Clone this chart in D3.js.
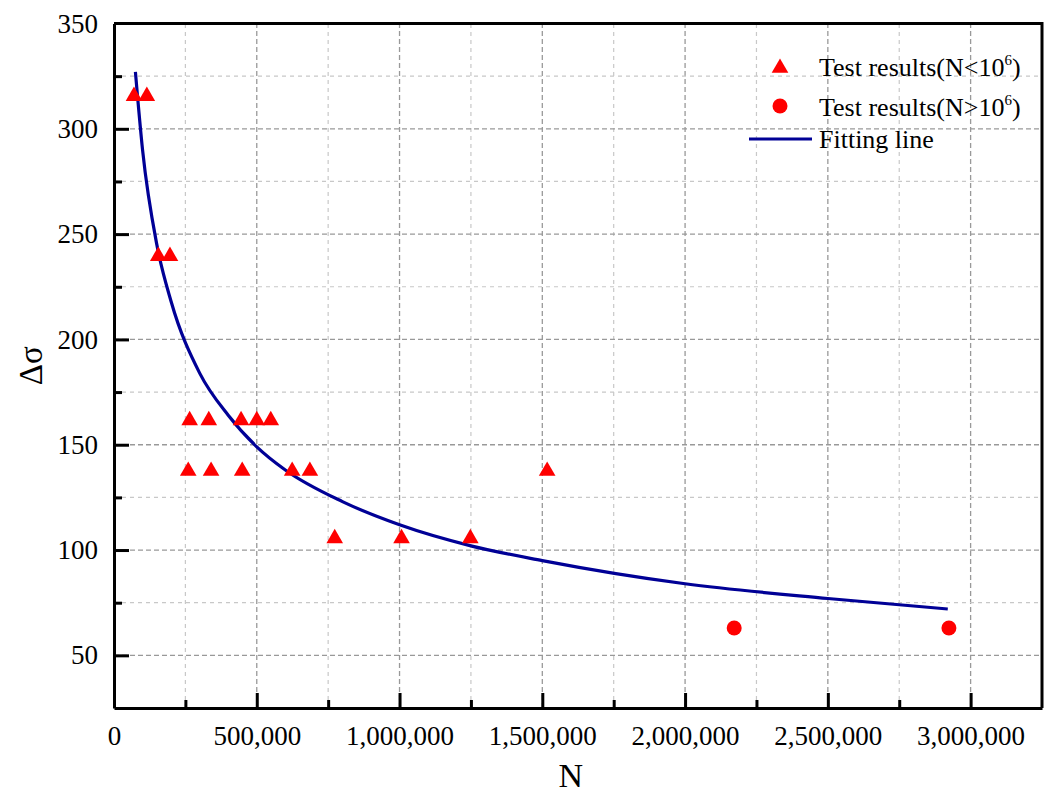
<!DOCTYPE html>
<html>
<head>
<meta charset="utf-8">
<script src="https://cdn.jsdelivr.net/npm/d3@7"></script>
<style>
  body { margin: 0; background: #fff; }
  svg, svg text { font-family: "Liberation Serif", "Times New Roman", serif !important; }
</style>
</head>
<body>
<svg id="chart" width="1053" height="796"></svg>
<script>
// Test results with N < 10^6 (triangles)
const lowN     = [70000, 115000, 155000, 196000, 265000, 332000, 445000, 500000, 549000,
                  260000, 340000, 449000, 624000, 686000, 1517000, 773000, 1007000, 1248000];
const lowStress = [316, 316, 240, 240, 162, 162, 162, 162, 162,
                   138, 138, 138, 138, 138, 138, 106, 106, 106];

// Test results with N > 10^6 (circles)
const highN      = [2172000, 2924000];
const highStress = [63, 63];

// Fitting line, points
const fitN      = [75000, 100000, 150000, 200000, 300000, 400000, 500000, 600000, 800000,
                   1000000, 1250000, 1500000, 2000000, 2500000, 2920000];
const fitStress = [327, 290, 245, 218, 184, 164, 149, 138, 123, 112, 102, 95, 84, 77, 72];

const xMajor = [0, 500000, 1000000, 1500000, 2000000, 2500000, 3000000];
const xMinor = [250000, 750000, 1250000, 1750000, 2250000, 2750000];
const yMajor = [50, 100, 150, 200, 250, 300, 350];
const yMinor = [75, 125, 175, 225, 275, 325];

const svg = d3.select('#chart');
const width = 1053, height = 796;
const margin = { top: 23.5, right: 11, bottom: 88, left: 114 };

const x = d3.scaleLinear().domain([0, 3250000]).range([margin.left, width - margin.right]);
const y = d3.scaleLinear().domain([25, 350]).range([height - margin.bottom, margin.top]);

// grid lines: lighter for the minor ticks, darker for the major ones
const grid = svg.append('g');
grid.selectAll('.vminor').data(xMinor).join('line')
  .attr('x1', d => x(d)).attr('x2', d => x(d))
  .attr('y1', y(25)).attr('y2', y(350))
  .attr('stroke', '#c8c8c8').attr('stroke-width', 1.2).attr('stroke-dasharray', '4,4');
grid.selectAll('.vmajor').data(xMajor.slice(1)).join('line')
  .attr('x1', d => x(d)).attr('x2', d => x(d))
  .attr('y1', y(25)).attr('y2', y(350))
  .attr('stroke', '#999').attr('stroke-width', 1.3).attr('stroke-dasharray', '5,3');
grid.selectAll('.hminor').data(yMinor).join('line')
  .attr('x1', x(0)).attr('x2', x(3250000))
  .attr('y1', d => y(d)).attr('y2', d => y(d))
  .attr('stroke', '#c8c8c8').attr('stroke-width', 1.2).attr('stroke-dasharray', '4,4');
grid.selectAll('.hmajor').data(yMajor.slice(0, -1)).join('line')
  .attr('x1', x(0)).attr('x2', x(3250000))
  .attr('y1', d => y(d)).attr('y2', d => y(d))
  .attr('stroke', '#999').attr('stroke-width', 1.3).attr('stroke-dasharray', '5,3');

// axes, ticks pointing inward
const fmt = d3.format(',');
svg.append('g')
  .attr('transform', `translate(0,${y(25)})`)
  .call(d3.axisBottom(x).tickValues(xMajor).tickFormat(fmt).tickSizeInner(-15).tickSizeOuter(0).tickPadding(18));
svg.append('g')
  .attr('transform', `translate(0,${y(25)})`)
  .call(d3.axisBottom(x).tickValues(xMinor).tickFormat('').tickSizeInner(-8).tickSizeOuter(0))
  .call(g => g.select('.domain').remove());
const yAxis = svg.append('g')
  .attr('transform', `translate(${x(0)},0)`)
  .call(d3.axisLeft(y).tickValues(yMajor).tickSizeInner(-15).tickSizeOuter(0).tickPadding(16));
svg.append('g')
  .attr('transform', `translate(${x(0)},0)`)
  .call(d3.axisLeft(y).tickValues(yMinor).tickFormat('').tickSizeInner(-8).tickSizeOuter(0))
  .call(g => g.select('.domain').remove());

svg.selectAll('.tick line').attr('stroke', '#000').attr('stroke-width', 3);
svg.selectAll('.domain').attr('stroke', '#000').attr('stroke-width', 3);
svg.selectAll('.tick text').attr('font-size', 27).attr('fill', '#000');
// remove the major tick at 350, it sits on the frame
yAxis.selectAll('.tick').filter(d => d === 350).select('line').remove();

// frame on top and right
svg.append('path')
  .attr('d', `M${x(0)},${y(350)}H${x(3250000)}V${y(25)}`)
  .attr('fill', 'none').attr('stroke', '#000').attr('stroke-width', 3);

// fitting line
const line = d3.line().x((d, i) => x(fitN[i])).y(d => y(d)).curve(d3.curveMonotoneX);
svg.append('path')
  .datum(fitStress)
  .attr('d', line)
  .attr('fill', 'none').attr('stroke', '#000096').attr('stroke-width', 3.2);

// markers
const tri = d3.symbol().type(d3.symbolTriangle).size(120);
svg.append('g').selectAll('path').data(lowStress).join('path')
  .attr('d', tri)
  .attr('transform', (d, i) => `translate(${x(lowN[i])},${y(d) + 1})`)
  .attr('fill', '#ff0000');
svg.append('g').selectAll('circle').data(highStress).join('circle')
  .attr('cx', (d, i) => x(highN[i])).attr('cy', d => y(d)).attr('r', 7.5)
  .attr('fill', '#ff0000');

// axis titles
svg.append('text')
  .attr('x', x(1600000)).attr('y', 787)
  .attr('text-anchor', 'middle').attr('font-size', 34).text('N');
svg.append('text')
  .attr('transform', `translate(42,${y(187.5)}) rotate(-90)`)
  .attr('text-anchor', 'middle').attr('font-size', 33).text('Δσ');

// legend
const legend = svg.append('g');
legend.append('path').attr('d', tri).attr('transform', 'translate(780,68)').attr('fill', '#ff0000');
legend.append('circle').attr('cx', 780).attr('cy', 106).attr('r', 7.5).attr('fill', '#ff0000');
legend.append('line').attr('x1', 749).attr('x2', 812).attr('y1', 139).attr('y2', 139)
  .attr('stroke', '#000096').attr('stroke-width', 3.2);

const labels = [['Test results(N<10', '6', ')', 76], ['Test results(N>10', '6', ')', 116]];
labels.forEach(([a, sup, b, yy]) => {
  const t = legend.append('text').attr('x', 819).attr('y', yy).attr('font-size', 26);
  t.append('tspan').text(a);
  t.append('tspan').attr('dy', -11).attr('font-size', 15).text(sup);
  t.append('tspan').attr('dy', 11).text(b);
});
legend.append('text').attr('x', 819).attr('y', 148).attr('font-size', 26).text('Fitting line');
</script>
</body>
</html>
